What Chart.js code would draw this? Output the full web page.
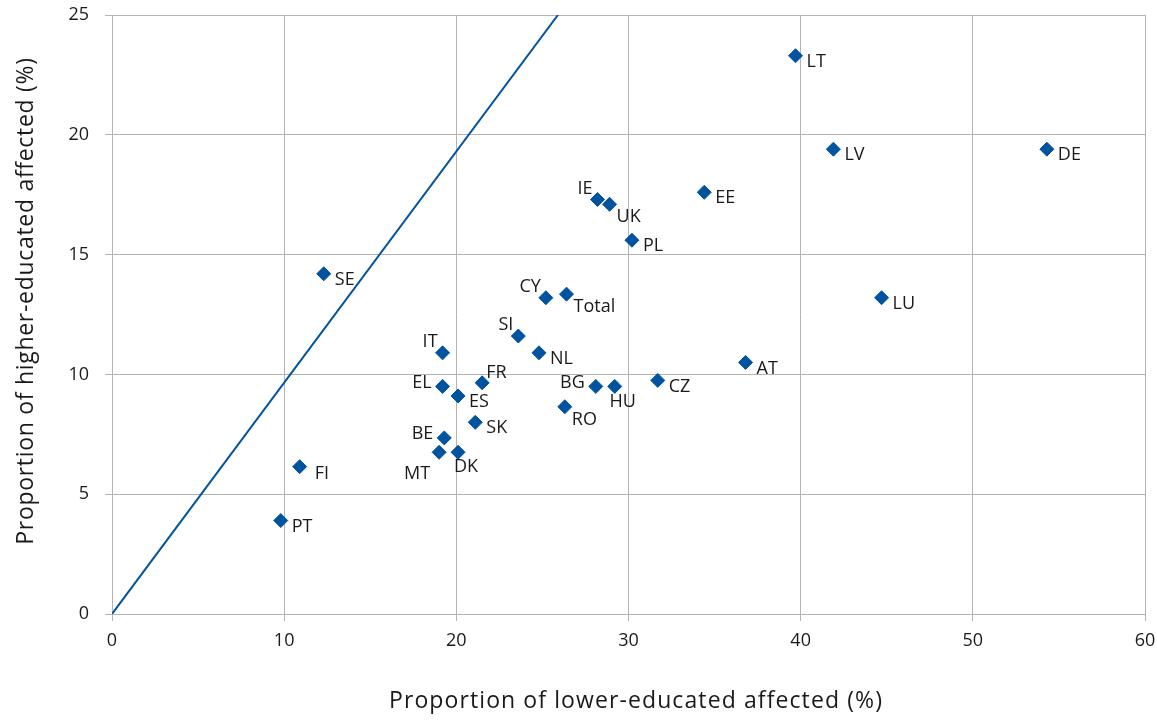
<!DOCTYPE html>
<html>
<head>
<meta charset="utf-8">
<script src="https://cdn.jsdelivr.net/npm/chart.js@4.4.1/dist/chart.umd.min.js"></script>
<style>
  html, body { margin: 0; padding: 0; background: #ffffff; }
  #wrap { width: 1157px; height: 720px; }
</style>
</head>
<body>
<div id="wrap"><canvas id="c" width="1157" height="720"></canvas></div>
<script>
// ---- Data ----
const countries = ['LT','LV','DE','EE','IE','UK','PL','SE','CY','Total','LU','SI','IT','NL','AT','FR','CZ','EL','BG','HU','ES','RO','SK','BE','MT','DK','FI','PT'];
const lowerEducated = [39.7,41.9,54.3,34.4,28.2,28.9,30.2,12.3,25.2,26.4,44.7,23.6,19.2,24.8,36.8,21.5,31.7,19.2,28.1,29.2,20.1,26.3,21.1,19.3,19.0,20.1,10.9,9.8];
const higherEducated = [23.3,19.4,19.4,17.6,17.3,17.1,15.6,14.2,13.2,13.35,13.2,11.6,10.9,10.9,10.5,9.65,9.75,9.5,9.5,9.5,9.1,8.65,8.0,7.35,6.75,6.75,6.15,3.9];
const refLineX = [0, 25.9];
const refLineY = [0, 25];
const xTickValues = [0, 10, 20, 30, 40, 50, 60];
const yTickValues = [0, 5, 10, 15, 20, 25];
const xTitle = 'Proportion of lower-educated affected (%)';
const yTitle = 'Proportion of higher-educated affected (%)';

// ---- Label anchor codes (style only) ----
const labelAnchor = ['r','r','r','r','al','br','r','r','al','br','r','al','al','r','r','ar','r','l','l','b','r','br','r','l','bl','b','rf','r'];
const anchorStyle = {
  r:  {dx: 11, dy: 6,  align: 'left'},
  rf: {dx: 15, dy: 7,  align: 'left'},
  br: {dx: 7,  dy: 13, align: 'left'},
  al: {dx: -5, dy: -11, align: 'right'},
  l:  {dx: -11, dy: -4, align: 'right'},
  ar: {dx: 4,  dy: -10, align: 'left'},
  bl: {dx: -9, dy: 22, align: 'right'},
  b:  {dx: 8,  dy: 15, align: 'center'}
};

const FONT = '"Open Sans", "Noto Sans", sans-serif';
const BLUE = '#00539f';
const GRID = '#b3b3b3';
const TEXT = '#1a1a1a';

const pointData = countries.map((c, i) => ({x: lowerEducated[i], y: higherEducated[i]}));
const lineData = refLineX.map((x, i) => ({x: x, y: refLineY[i]}));

const labelPlugin = {
  id: 'pointLabels',
  afterDatasetsDraw(chart) {
    const ctx = chart.ctx;
    const meta = chart.getDatasetMeta(1);
    ctx.save();
    ctx.font = '18px ' + FONT;
    ctx.fillStyle = TEXT;
    ctx.textBaseline = 'middle';
    meta.data.forEach((el, i) => {
      const s = anchorStyle[labelAnchor[i]];
      ctx.textAlign = s.align;
      ctx.fillText(countries[i], el.x + s.dx, el.y + s.dy);
    });
    ctx.restore();
  }
};

const titlePlugin = {
  id: 'axisTitles',
  afterDraw(chart) {
    const ctx = chart.ctx;
    ctx.save();
    ctx.fillStyle = TEXT;
    ctx.textAlign = 'center';
    ctx.textBaseline = 'alphabetic';
    ctx.font = '23px ' + FONT;
    if ('letterSpacing' in ctx) ctx.letterSpacing = '1.1px';
    ctx.fillText(xTitle, 636, 708);
    ctx.translate(33, 301);
    ctx.rotate(-Math.PI / 2);
    if ('letterSpacing' in ctx) ctx.letterSpacing = '0.7px';
    ctx.fillText(yTitle, 0, 0);
    ctx.restore();
  }
};

new Chart(document.getElementById('c'), {
  type: 'scatter',
  data: {
    datasets: [
      {
        type: 'line',
        data: lineData,
        borderColor: BLUE,
        borderWidth: 2,
        pointRadius: 0,
        fill: false,
        showLine: true,
        order: 2
      },
      {
        data: pointData,
        pointStyle: 'rectRot',
        pointRadius: 7,
        pointHoverRadius: 7,
        backgroundColor: BLUE,
        borderColor: BLUE,
        borderWidth: 1,
        order: 1
      }
    ]
  },
  options: {
    responsive: false,
    animation: false,
    events: [],
    layout: { padding: { left: 0, right: 12, top: 15, bottom: 0 } },
    plugins: { legend: { display: false }, tooltip: { enabled: false } },
    scales: {
      x: {
        type: 'linear',
        min: 0, max: 60,
        afterBuildTicks(scale) { scale.ticks = xTickValues.map(v => ({value: v})); },
        afterFit(scale) { scale.height = 106; scale.paddingLeft = 0; scale.paddingRight = 0; },
        grid: { color: GRID, lineWidth: 1, tickLength: 7, drawTicks: true, tickColor: GRID },
        border: { color: GRID, width: 1 },
        ticks: { color: TEXT, font: { family: FONT, size: 18 }, padding: 9, maxRotation: 0 },
        title: { display: false }
      },
      y: {
        type: 'linear',
        min: 0, max: 25,
        afterBuildTicks(scale) { scale.ticks = yTickValues.map(v => ({value: v})); },
        afterFit(scale) { scale.width = 112; scale.paddingTop = 0; scale.paddingBottom = 0; },
        grid: { color: GRID, lineWidth: 1, tickLength: 7, drawTicks: true, tickColor: GRID },
        border: { color: GRID, width: 1 },
        ticks: { color: TEXT, font: { family: FONT, size: 18 }, padding: 16 },
        title: { display: false }
      }
    }
  },
  plugins: [labelPlugin, titlePlugin]
});
</script>
</body>
</html>
